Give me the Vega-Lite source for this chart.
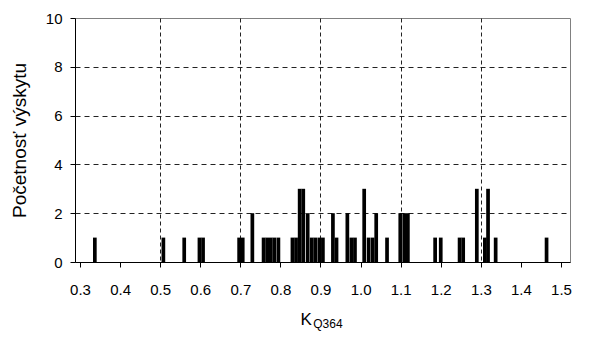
{
  "$schema": "https://vega.github.io/schema/vega-lite/v6.json",
  "width": 495,
  "height": 244,
  "autosize": {"type": "none"},
  "padding": {"left": 75, "top": 18, "right": 20, "bottom": 78},
  "background": "white",
  "config": {
    "view": {"stroke": "#808080", "strokeWidth": 1},
    "font": "Liberation Sans"
  },
  "data": {
    "values": [
      {"k": 0.337, "n": 1}, {"k": 0.508, "n": 1}, {"k": 0.560, "n": 1},
      {"k": 0.598, "n": 1}, {"k": 0.607, "n": 1}, {"k": 0.697, "n": 1},
      {"k": 0.706, "n": 1}, {"k": 0.730, "n": 2},
      {"k": 0.758, "n": 1}, {"k": 0.767, "n": 1}, {"k": 0.776, "n": 1},
      {"k": 0.785, "n": 1}, {"k": 0.795, "n": 1},
      {"k": 0.830, "n": 1}, {"k": 0.839, "n": 1}, {"k": 0.848, "n": 3},
      {"k": 0.857, "n": 3}, {"k": 0.868, "n": 2}, {"k": 0.878, "n": 1},
      {"k": 0.887, "n": 1}, {"k": 0.897, "n": 1}, {"k": 0.906, "n": 1},
      {"k": 0.931, "n": 2}, {"k": 0.940, "n": 1}, {"k": 0.967, "n": 2},
      {"k": 0.977, "n": 1}, {"k": 0.986, "n": 1},
      {"k": 1.009, "n": 3}, {"k": 1.020, "n": 1}, {"k": 1.030, "n": 1},
      {"k": 1.039, "n": 2}, {"k": 1.066, "n": 1},
      {"k": 1.099, "n": 2}, {"k": 1.109, "n": 2}, {"k": 1.118, "n": 2},
      {"k": 1.186, "n": 1}, {"k": 1.200, "n": 1}, {"k": 1.247, "n": 1},
      {"k": 1.256, "n": 1}, {"k": 1.290, "n": 3}, {"k": 1.310, "n": 1},
      {"k": 1.318, "n": 3}, {"k": 1.337, "n": 1}, {"k": 1.464, "n": 1}
    ]
  },
  "layer": [
    {
      "mark": {"type": "bar", "color": "black", "width": 3.7},
      "encoding": {
        "x": {
          "field": "k",
          "type": "quantitative",
          "scale": {"domain": [0.3, 1.51], "nice": false, "zero": false},
          "axis": {
            "values": [0.3, 0.4, 0.5, 0.6, 0.7, 0.8, 0.9, 1.0, 1.1, 1.2, 1.3, 1.4, 1.5],
            "format": ".1f",
            "title": "K",
            "titleFontSize": 17,
            "titleFontWeight": "normal",
            "titleColor": "black",
            "titleX": 225,
            "titleY": 62,
            "titleAlign": "left",
            "titleBaseline": "alphabetic",
            "labelFontSize": 15,
            "labelColor": "black",
            "labelPadding": 15,
            "labelFlush": false,
            "labelOverlap": false,
            "tickSize": 5,
            "tickColor": "black",
            "domainColor": "black",
            "grid": true,
            "gridColor": "#222222",
            "gridDash": [4, 3],
            "gridOpacity": {
              "condition": {"test": "datum.value > 0.4 && datum.value < 1.4 && abs((datum.value * 10) % 2 - 1) < 0.1", "value": 1},
              "value": 0
            }
          }
        },
        "y": {
          "field": "n",
          "type": "quantitative",
          "scale": {"domain": [0, 10], "nice": false},
          "axis": {
            "values": [0, 2, 4, 6, 8, 10],
            "title": "Početnosť výskytu",
            "titleFontSize": 19,
            "titleFontWeight": "normal",
            "titleColor": "black",
            "titleAngle": 270,
            "titleX": -46,
            "titleY": 122,
            "titleAlign": "center",
            "titleBaseline": "bottom",
            "labelFontSize": 15,
            "labelColor": "black",
            "labelPadding": 8,
            "tickSize": 5,
            "tickColor": "black",
            "domainColor": "black",
            "grid": true,
            "gridColor": "#222222",
            "gridDash": [5, 4],
            "gridOpacity": {
              "condition": {"test": "datum.value > 0 && datum.value < 10", "value": 1},
              "value": 0
            }
          }
        }
      }
    },
    {
      "data": {"values": [{"sub": "Q364"}]},
      "mark": {"type": "text", "align": "left", "baseline": "alphabetic", "fontSize": 12, "color": "black", "font": "Liberation Sans"},
      "encoding": {
        "x": {"datum": 0.882},
        "y": {"datum": -2.7},
        "text": {"field": "sub"}
      }
    }
  ]
}
